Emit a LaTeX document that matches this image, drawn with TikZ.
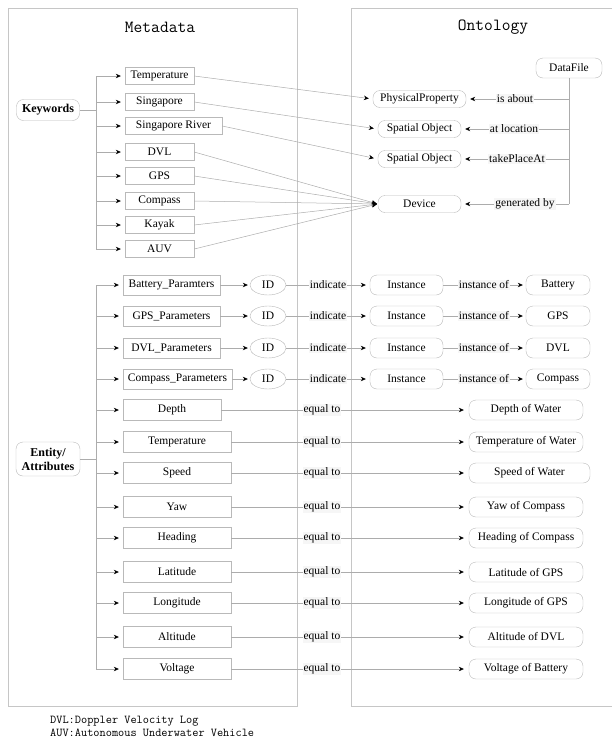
\documentclass[tikz,border=0pt]{standalone}
\usepackage{fontspec}
\setmainfont{Liberation Serif}
\usetikzlibrary{arrows.meta,shapes.geometric}
\begin{document}
\begin{tikzpicture}[x=1pt,y=-1pt,
  every node/.style={font=\fontsize{11.5}{13}\selectfont, inner sep=0pt},
  panel/.style={draw=gray!45, line width=0.5pt},
  sbox/.style={draw=gray!55, rectangle, minimum height=#1},
  sbox/.default=17pt,
  rbox/.style={draw=gray!55, rectangle, rounded corners=7pt, minimum height=#1},
  rbox/.default=20pt,
  idnode/.style={draw=gray!55, ellipse, minimum width=36pt, minimum height=20pt},
  ttl/.style={font=\ttfamily\fontsize{17}{19}\selectfont},
  note/.style={font=\ttfamily\fontsize{12}{12}\selectfont, anchor=base west},
  plain/.style={draw=gray!65, line width=0.5pt},
  conn/.style={draw=gray!65, line width=0.5pt, -{Stealth[length=5pt,width=4.5pt,black]}, shorten >=#1},
  conn/.default=4pt,
  lab/.style={fill=gray!7, inner sep=1pt},
  bold/.style={font=\bfseries\fontsize{12}{14}\selectfont, align=center}
]
\useasboundingbox (0,0) rectangle (611,742);
% panels
\draw[panel] (8,8) rectangle (297,706);
\draw[panel] (616,8) -- (351,8) -- (351,706) -- (616,706);
\node[ttl] (tmeta) at (160,27) {Metadata};
\node[ttl] (tonto) at (493,27) {Ontology};

% Keywords section
\node[rbox=21pt, minimum width=63pt, bold] (kw) at (48,110) {Keywords};
\node[sbox, minimum width=69pt] (kT) at (159.5,76) {Temperature};
\node[sbox, minimum width=69pt] (kS) at (159.5,102) {Singapore};
\node[sbox, minimum width=97pt] (kSR) at (173.5,126) {Singapore River};
\node[sbox, minimum width=69pt] (kD) at (159.5,152) {DVL};
\node[sbox, minimum width=69pt] (kG) at (159.5,176) {GPS};
\node[sbox, minimum width=69pt] (kC) at (159.5,201) {Compass};
\node[sbox, minimum width=69pt] (kK) at (159.5,225) {Kayak};
\node[sbox, minimum width=69pt] (kA) at (159.5,249) {AUV};
\coordinate (t1a) at (96,76);
\coordinate (t1b) at (96,249);
\coordinate (t1m) at (96,110);
\draw[plain] (kw.east) -- (t1m);
\draw[plain] (t1a) -- (t1b);
\foreach \n in {kT,kS,kSR,kD,kG,kC,kK,kA}
  \draw[conn] (t1a |- \n) -- (\n.west);

% Ontology top
\node[rbox, minimum width=66pt] (df) at (569,68) {DataFile};
\node[rbox=17pt, minimum width=93pt] (pp) at (419.5,99) {PhysicalProperty};
\node[rbox=17pt, minimum width=83pt] (so1) at (419.5,129) {Spatial Object};
\node[rbox=17pt, minimum width=83pt] (so2) at (419.5,159) {Spatial Object};
\node[rbox=17pt, minimum width=83pt] (dev) at (419.5,204) {Device};

\draw[conn] (kT.east) -- (pp.west);
\draw[conn] (kS.east) -- (so1.west);
\draw[conn] (kSR.east) -- (so2.west);
\foreach \n in {kD,kG,kC,kK,kA}
  \draw[conn=1pt] (\n.east) -- (dev.west);

\draw[plain] (df.south) -- (df.south |- dev);
\draw[conn] (df.south |- pp) -- (pp.east);
\draw[conn] (df.south |- so1) -- (so1.east);
\draw[conn] (df.south |- so2) -- (so2.east);
\draw[conn] (df.south |- dev) -- (dev.east);
\node[lab] (l1) at (515,99) {is about};
\node[lab] (l2) at (514,129) {at location};
\node[lab] (l3) at (517,159) {takePlaceAt};
\node[lab] (l4) at (525,204) {generated by};

% Entity / Attributes section
\node[rbox=34pt, minimum width=64pt, bold] (ea) at (48,459) {Entity/\\Attributes};
\coordinate (t2a) at (96,285);
\coordinate (t2b) at (96,669);
\coordinate (t2m) at (96,459);
\draw[plain] (ea.east) -- (t2m);
\draw[plain] (t2a) -- (t2b);

% parameter rows
\foreach \nm/\cx/\w/\y/\txt/\cls in {
  pb/171.5/97/285/{Battery\_Paramters}/Battery,
  pg/171.5/97/316/{GPS\_Parameters}/GPS,
  pd/171.5/97/348/{DVL\_Parameters}/DVL,
  pc/177.5/109/379/{Compass\_Parameters}/Compass}
{
  \node[sbox=20pt, minimum width=\w pt] (\nm) at (\cx,\y) {\txt};
  \node[idnode] (\nm id) at (268,\y) {ID};
  \node[rbox, minimum width=73pt] (\nm in) at (406.5,\y) {Instance};
  \node[rbox, minimum width=64pt] (\nm cl) at (558,\y) {\cls};
  \draw[conn] (t2a |- \nm) -- (\nm.west);
  \draw[conn=2pt] (\nm.east) -- (\nm id.west);
  \draw[conn] (\nm id.east) -- (\nm in.west);
  \draw[conn=3pt] (\nm in.east) -- (\nm cl.west);
  \node[lab] (\nm ind) at (328,\y) {indicate};
  \node[lab] (\nm iof) at (484,\y) {instance of};
}

% attribute rows
\foreach \nm/\cx/\w/\y/\txt/\tcx/\tw/\tgt in {
  aD/172/98/410/Depth/526/114/Depth of Water,
  aT/177/108/442/Temperature/526/114/Temperature of Water,
  aS/177/108/473/Speed/529.5/121/Speed of Water,
  aY/177/108/507/Yaw/526/114/Yaw of Compass,
  aH/177/108/538/Heading/526/114/Heading of Compass,
  aLa/177/108/572/Latitude/526/114/Latitude of GPS,
  aLo/177/108/603/Longitude/526/114/Longitude of GPS,
  aAl/177/108/637/Altitude/526/114/Altitude of DVL,
  aV/177/108/669/Voltage/526/114/Voltage of Battery}
{
  \node[sbox=21pt, minimum width=\w pt] (\nm) at (\cx,\y) {\txt};
  \node[rbox, minimum width=\tw pt] (\nm t) at (\tcx,\y) {\tgt};
  \draw[conn] (t2a |- \nm) -- (\nm.west);
  \draw[conn=5pt] (\nm.east) -- (\nm t.west);
  \node[lab] (\nm eq) at (322,\y) {equal to};
}

% notes
\node[note] (n1) at (50,723.5) {DVL:Doppler Velocity Log};
\node[note] (n2) at (50,736) {AUV:Autonomous Underwater Vehicle};
\end{tikzpicture}
\end{document}
